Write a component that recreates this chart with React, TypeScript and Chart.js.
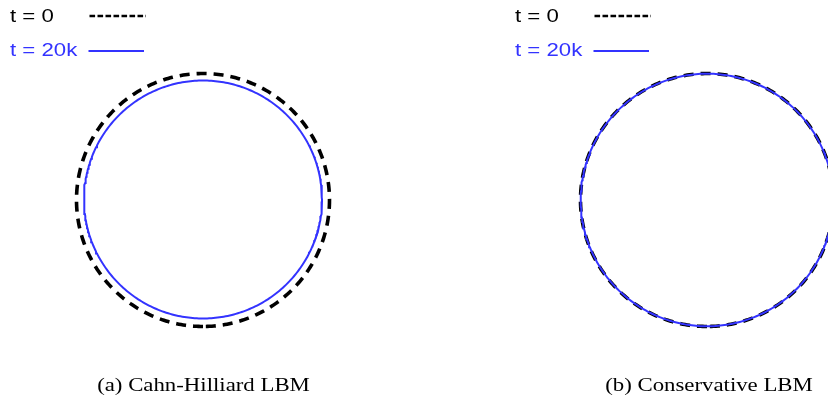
import React, { useEffect, useRef } from 'react';
import { Chart, registerables } from 'chart.js';

Chart.register(...registerables);

const WIDTH = 828;
const HEIGHT = 403;

// Droplet interface for the two schemes, in lattice units
const panelTitles = ['(a) Cahn-Hilliard LBM', '(b) Conservative LBM'];
const legendLabels = ['t = 0', 't = 20k'];
const centersX = [203, 707];
const centersY = [200, 200];
const radiusInitial = [126.5, 126.5];
const radiusFinal = [119, 126.3];
const finalShiftY = [-0.5, 0];

const BLACK = '#000000';
const BLUE = '#3333ff';

// closed interface contour sampled around the centre
function contour(cx: number, cy: number, r: number, n = 360) {
  const pts: { x: number; y: number }[] = [];
  for (let i = 0; i <= n; i++) {
    const a = (i / n) * Math.PI * 2 + Math.PI / 2;
    pts.push({ x: cx + r * Math.cos(a), y: cy + r * Math.sin(a) });
  }
  return pts;
}

function wideText(ctx: CanvasRenderingContext2D, text: string, x: number, y: number, sx: number) {
  ctx.save();
  ctx.translate(x, y);
  ctx.scale(sx, 1);
  ctx.fillText(text, 0, 0);
  ctx.restore();
}

const legendAndCaptions = {
  id: 'legendAndCaptions',
  afterDraw(chart: Chart) {
    const ctx = chart.ctx;
    ctx.save();
    const offsets = [0, 505];
    offsets.forEach((ox) => {
      ctx.font = '18.5px "Liberation Sans"';
      ctx.textBaseline = 'alphabetic';
      ctx.textAlign = 'left';
      ctx.fillStyle = BLACK;
      wideText(ctx, legendLabels[0], 10 + ox, 22, 1.2);
      ctx.fillStyle = BLUE;
      wideText(ctx, legendLabels[1], 10 + ox, 56, 1.2);

      ctx.lineCap = 'butt';
      ctx.strokeStyle = BLACK;
      ctx.lineWidth = 2.5;
      ctx.setLineDash([5.6, 2.4]);
      ctx.beginPath();
      ctx.moveTo(89.5 + ox, 16);
      ctx.lineTo(146 + ox, 16);
      ctx.stroke();

      ctx.setLineDash([]);
      ctx.strokeStyle = BLUE;
      ctx.lineWidth = 2;
      ctx.beginPath();
      ctx.moveTo(88.5 + ox, 51);
      ctx.lineTo(144 + ox, 51);
      ctx.stroke();
    });

    ctx.fillStyle = BLACK;
    ctx.font = '19px "Liberation Serif"';
    ctx.textAlign = 'center';
    const capX = [203.5, 709];
    panelTitles.forEach((t, i) => wideText(ctx, t, capX[i], 391, 1.2));
    ctx.restore();
  },
};

export default function App() {
  const ref = useRef<HTMLCanvasElement | null>(null);

  useEffect(() => {
    if (!ref.current) return;
    const datasets: any[] = [];
    centersX.forEach((cx, i) => {
      datasets.push({
        label: legendLabels[0],
        data: contour(cx, centersY[i], radiusInitial[i]),
        borderColor: BLACK,
        borderWidth: 3.6,
        borderDash: [10, 7],
        pointRadius: 0,
        showLine: true,
        fill: false,
        tension: 0,
        order: 2,
      });
      datasets.push({
        label: legendLabels[1],
        data: contour(cx, centersY[i] + finalShiftY[i], radiusFinal[i]),
        borderColor: BLUE,
        borderWidth: 2,
        pointRadius: 0,
        showLine: true,
        fill: false,
        tension: 0,
        order: 1,
      });
    });

    const chart = new Chart(ref.current, {
      type: 'scatter',
      data: { datasets },
      options: {
        animation: false,
        responsive: false,
        maintainAspectRatio: false,
        layout: { padding: 0 },
        plugins: { legend: { display: false }, tooltip: { enabled: false } },
        scales: {
          x: { type: 'linear', min: 0, max: WIDTH, display: false },
          y: { type: 'linear', min: 0, max: HEIGHT, reverse: true, display: false },
        },
      },
      plugins: [legendAndCaptions],
    });
    return () => chart.destroy();
  }, []);

  return (
    <div style={{ position: 'fixed', left: 0, top: 0, width: WIDTH, height: HEIGHT, background: '#fff' }}>
      <canvas ref={ref} width={WIDTH} height={HEIGHT} style={{ display: 'block' }} />
    </div>
  );
}
